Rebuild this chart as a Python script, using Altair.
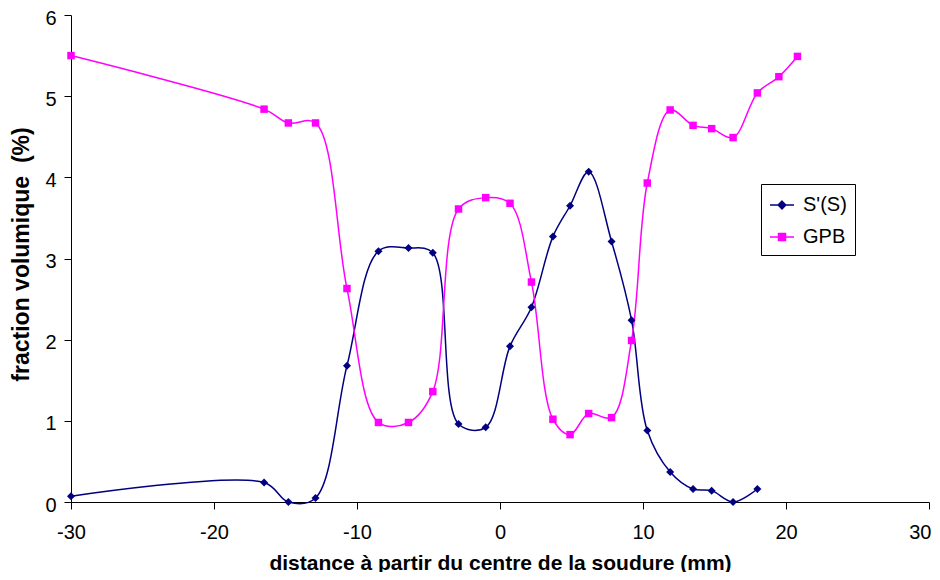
import altair as alt
import pandas as pd

# ---- data ----
x_s = [-30, -16.5, -14.8, -12.9, -10.7, -8.5, -6.4, -4.7, -2.9, -1.0, 0.7, 2.2,
       3.7, 4.9, 6.2, 7.8, 9.2, 10.3, 11.9, 13.5, 14.8, 16.3, 18.0]
s_vals = [0.07, 0.24, 0.0, 0.05, 1.68, 3.09, 3.13, 3.07, 0.96, 0.92, 1.92, 2.40,
          3.27, 3.65, 4.07, 3.21, 2.24, 0.88, 0.37, 0.16, 0.14, 0.0, 0.16]

x_g = [-30, -16.5, -14.8, -12.9, -10.7, -8.5, -6.4, -4.7, -2.9, -1.0, 0.7, 2.2,
       3.7, 4.9, 6.2, 7.8, 9.2, 10.3, 11.9, 13.5, 14.8, 16.3, 18.0, 19.5, 20.8]
g_vals = [5.50, 4.84, 4.67, 4.67, 2.63, 0.98, 0.98, 1.36, 3.61, 3.75, 3.68, 2.71,
          1.02, 0.83, 1.09, 1.04, 1.99, 3.93, 4.83, 4.64, 4.60, 4.49, 5.04, 5.24, 5.49]

series_names = ["S'(S)", "GPB"]
series_colors = ["#000080", "#FF00FF"]
x_ticks = [-30, -20, -10, 0, 10, 20, 30]
y_ticks = [0, 1, 2, 3, 4, 5, 6]

rows = []
for xv, yv in zip(x_s, s_vals):
    rows.append({"series": series_names[0], "x": xv, "y": yv, "order": len(rows)})
for xv, yv in zip(x_g, g_vals):
    rows.append({"series": series_names[1], "x": xv, "y": yv, "order": len(rows)})
df = pd.DataFrame(rows)

FONT = "Liberation Sans"

x_enc = alt.X(
    "x:Q",
    scale=alt.Scale(domain=[-30, 30], nice=False, zero=False),
    axis=alt.Axis(
        values=x_ticks, title="distance à partir du centre de la soudure (mm)",
        labelExpr="datum.value + ''",
        grid=False, tickSize=7, tickColor="black", domainColor="black",
        labelFont=FONT, labelFontSize=20, labelColor="black", labelPadding=13,
        labelFlush=False, labelOverlap=False,
        labelAlign=alt.ExprRef(expr="datum.value === 30 ? 'right' : 'center'"),
        labelOffset=alt.ExprRef(expr="datum.value === 30 ? 2 : 0"),
        titleFont=FONT, titleFontSize=21, titleFontWeight="bold", titleColor="black",
        titleY=67, titleBaseline="alphabetic",
    ),
)
y_enc = alt.Y(
    "y:Q",
    scale=alt.Scale(domain=[0, 6], nice=False, zero=False),
    axis=alt.Axis(
        values=y_ticks, title="fraction volumique\u00a0 (%)",
        labelExpr="datum.value + ''",
        grid=False, tickSize=7, tickColor="black", domainColor="black",
        labelFont=FONT, labelFontSize=20, labelColor="black", labelPadding=8,
        labelOffset=3,
        titleFont=FONT, titleFontSize=23, titleFontWeight="bold", titleColor="black",
        titleAngle=-90, titleX=-50, titleY=239, titleAlign="center", titleBaseline="middle",
    ),
)

shape_expr = ("datum.value === 'GPB' ? 'M-1,0H1M-0.29,-0.29H0.29V0.29H-0.29Z' : "
              "'M-1,0H1M0,-0.32L0.32,0L0,0.32L-0.32,0Z'")
fill_expr = "datum.value === 'GPB' ? '#FF00FF' : '#000080'"

color_enc = alt.Color(
    "series:N",
    scale=alt.Scale(domain=series_names, range=series_colors),
    legend=alt.Legend(
        title=None, orient="none", legendX=690, legendY=169,
        padding=8, strokeColor="black", fillColor="white", cornerRadius=0,
        labelFont=FONT, labelFontSize=20, labelColor="black", labelOffset=8,
        symbolSize=576, symbolStrokeWidth=1.5, rowPadding=9,
        symbolType=alt.ExprRef(expr=shape_expr),
        symbolFillColor=alt.ExprRef(expr=fill_expr),
        symbolOpacity=1,
    ),
)

lines = alt.Chart(df).mark_line(interpolate="catmull-rom", strokeWidth=1.5).encode(
    x=x_enc, y=y_enc, color=color_enc, order="order:Q"
)

pt_color = alt.Color("series:N", scale=alt.Scale(domain=series_names, range=series_colors), legend=None)

pts_s = alt.Chart(df).transform_filter(alt.datum.series == series_names[0]).mark_point(
    filled=True, opacity=1, size=64, shape="diamond"
).encode(x="x:Q", y="y:Q", color=pt_color)

pts_g = alt.Chart(df).transform_filter(alt.datum.series == series_names[1]).mark_point(
    filled=True, opacity=1, size=56, shape="square"
).encode(x="x:Q", y="y:Q", color=pt_color)

chart = alt.layer(lines, pts_s, pts_g).properties(
    width=858, height=487,
    autosize=alt.AutoSizeParams(type="none"),
    padding={"left": 63, "top": 7, "right": 3, "bottom": 70},
    background="white",
).configure_view(stroke=None)

chart.save("out.html", embed_options={"renderer": "svg", "actions": False})
